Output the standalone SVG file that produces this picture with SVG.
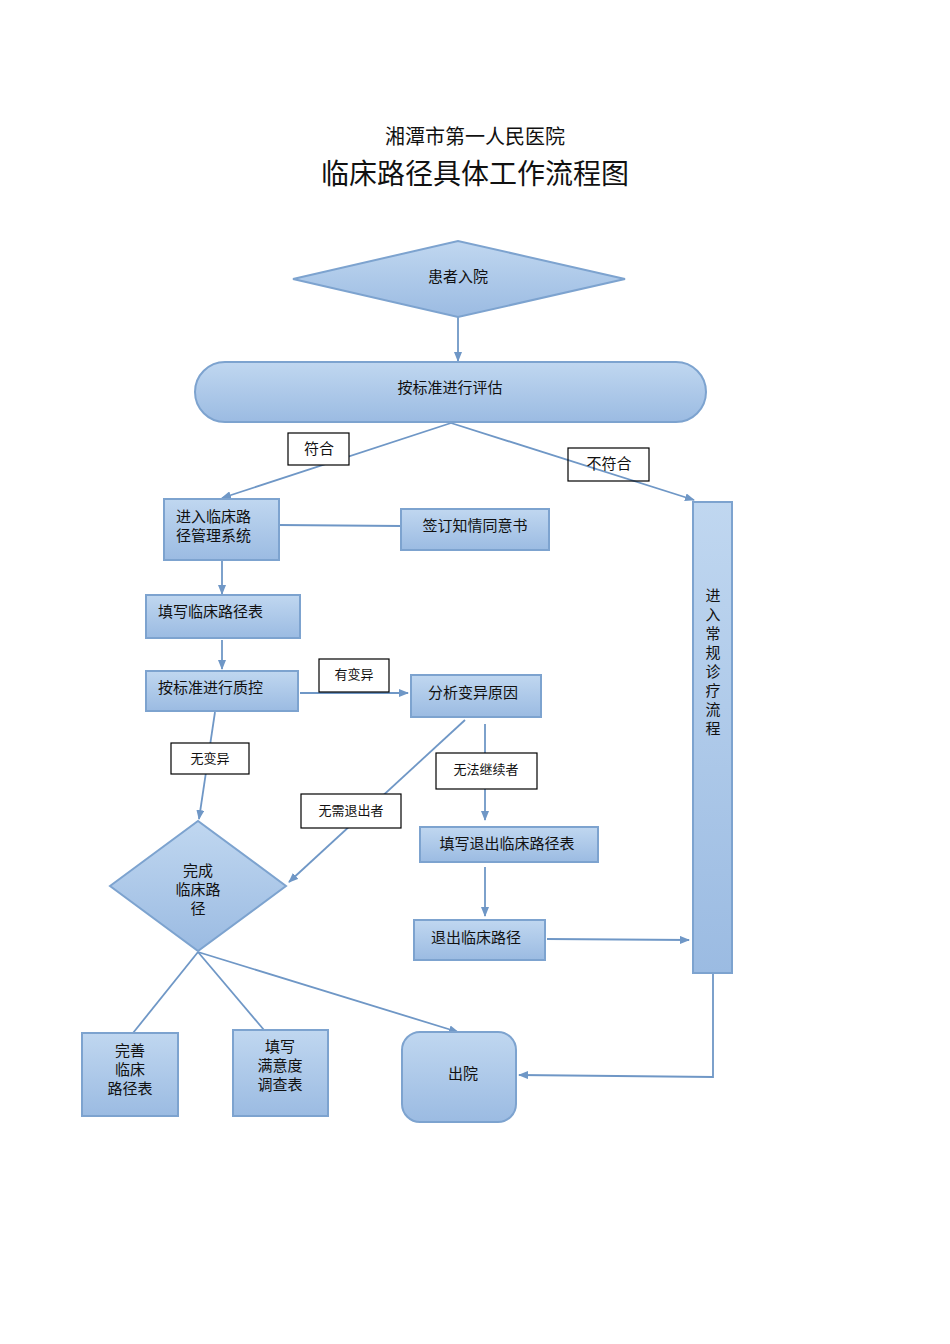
<svg xmlns="http://www.w3.org/2000/svg" width="950" height="1344" viewBox="0 0 950 1344">
<defs>
<linearGradient id="g" x1="0" y1="0" x2="0" y2="1"><stop offset="0" stop-color="#c0d7f0"/><stop offset="1" stop-color="#9bbbe2"/></linearGradient>
<marker id="a" markerWidth="10" markerHeight="8" refX="9" refY="4" orient="auto" markerUnits="userSpaceOnUse"><path d="M0,0 L10,4 L0,8 Z" fill="#6f97c6"/></marker>
</defs>
<style>
.n{fill:url(#g);stroke:#7da3cf;stroke-width:2}
.l{fill:#fff;stroke:#000;stroke-width:1.2}
.c{fill:none;stroke:#6f97c6;stroke-width:1.8}
text{font-family:"Noto Sans CJK SC","Liberation Serif",serif;fill:#111;font-size:15px}
.m{text-anchor:middle}
</style>
<rect width="950" height="1344" fill="#fff"/>
<text x="475" y="144" class="m" font-size="20" style="font-size:20px">湘潭市第一人民医院</text>
<text x="475" y="184" class="m" style="font-size:28px">临床路径具体工作流程图</text>
<g id="connectors">
<path class="c" d="M458,317 L458,361" marker-end="url(#a)"/>
<path class="c" d="M451,423 L222,498" marker-end="url(#a)"/>
<path class="c" d="M451,423 L694,500" marker-end="url(#a)"/>
<path class="c" d="M279,525 L401,526"/>
<path class="c" d="M222,560 L222,594" marker-end="url(#a)"/>
<path class="c" d="M222,640 L222,669" marker-end="url(#a)"/>
<path class="c" d="M300,693 L408,693" marker-end="url(#a)"/>
<path class="c" d="M215,712 L199,819" marker-end="url(#a)"/>
<path class="c" d="M465,720 L289,882" marker-end="url(#a)"/>
<path class="c" d="M485,724 L485,820" marker-end="url(#a)"/>
<path class="c" d="M485,867 L485,916" marker-end="url(#a)"/>
<path class="c" d="M547,939 L689,940" marker-end="url(#a)"/>
<path class="c" d="M713,973 L713,1077 L519,1075" marker-end="url(#a)"/>
<path class="c" d="M198,952 L133,1033"/>
<path class="c" d="M198,952 L264,1030"/>
<path class="c" d="M198,952 L458,1032" marker-end="url(#a)"/>
</g>
<g id="lbl1"><rect class="l" x="288" y="433" width="61" height="32"/><text x="319" y="454" class="m">符合</text></g>
<g id="lbl2"><rect x="568" y="448" width="81" height="33" fill="none" stroke="#000" stroke-width="1.2"/><text x="609" y="469" class="m">不符合</text></g>
<g id="lbl3"><rect class="l" x="319" y="659" width="70" height="33"/><text x="354" y="679" class="m" style="font-size:13px">有变异</text></g>
<g id="lbl4"><rect class="l" x="171" y="743" width="78" height="31"/><text x="210" y="763" class="m" style="font-size:13px">无变异</text></g>
<g id="lbl5"><rect class="l" x="301" y="794" width="100" height="34"/><text x="351" y="815" class="m" style="font-size:13px">无需退出者</text></g>
<g id="lbl6"><rect class="l" x="436" y="753" width="101" height="36"/><text x="486" y="774" class="m" style="font-size:13px">无法继续者</text></g>
<g id="n1"><polygon class="n" points="293,279 458,241 625,279 458,317"/><text x="458" y="282" class="m">患者入院</text></g>
<g id="n2"><rect class="n" x="195" y="362" width="511" height="60" rx="30"/><text x="450" y="393" class="m">按标准进行评估</text></g>
<g id="n3"><rect class="n" x="164" y="499" width="115" height="61"/><text x="176" y="522">进入临床路</text><text x="176" y="541">径管理系统</text></g>
<g id="n4"><rect class="n" x="401" y="509" width="148" height="41"/><text x="475" y="531" class="m">签订知情同意书</text></g>
<g id="n5"><rect class="n" x="146" y="595" width="154" height="43"/><text x="158" y="617">填写临床路径表</text></g>
<g id="n6"><rect class="n" x="146" y="671" width="152" height="40"/><text x="158" y="693">按标准进行质控</text></g>
<g id="n7"><rect class="n" x="411" y="675" width="130" height="42"/><text x="473" y="698" class="m">分析变异原因</text></g>
<g id="n8"><rect class="n" x="420" y="827" width="178" height="35"/><text x="507" y="849" class="m">填写退出临床路径表</text></g>
<g id="n9"><rect class="n" x="414" y="920" width="131" height="40"/><text x="476" y="943" class="m">退出临床路径</text></g>
<g id="n10"><rect class="n" x="693" y="502" width="39" height="471"/>
<text x="713" y="601" class="m">进</text><text x="713" y="620" class="m">入</text><text x="713" y="639" class="m">常</text><text x="713" y="658" class="m">规</text><text x="713" y="677" class="m">诊</text><text x="713" y="696" class="m">疗</text><text x="713" y="715" class="m">流</text><text x="713" y="734" class="m">程</text></g>
<g id="n11"><polygon class="n" points="110,886 198,821 286,886 198,951"/><text x="198" y="876" class="m">完成</text><text x="198" y="895" class="m">临床路</text><text x="198" y="914" class="m">径</text></g>
<g id="n12"><rect class="n" x="82" y="1033" width="96" height="83"/><text x="130" y="1056" class="m">完善</text><text x="130" y="1075" class="m">临床</text><text x="130" y="1094" class="m">路径表</text></g>
<g id="n13"><rect class="n" x="233" y="1030" width="95" height="86"/><text x="280" y="1052" class="m">填写</text><text x="280" y="1071" class="m">满意度</text><text x="280" y="1090" class="m">调查表</text></g>
<g id="n14"><rect class="n" x="402" y="1032" width="114" height="90" rx="18"/><text x="463" y="1079" class="m">出院</text></g>
</svg>
